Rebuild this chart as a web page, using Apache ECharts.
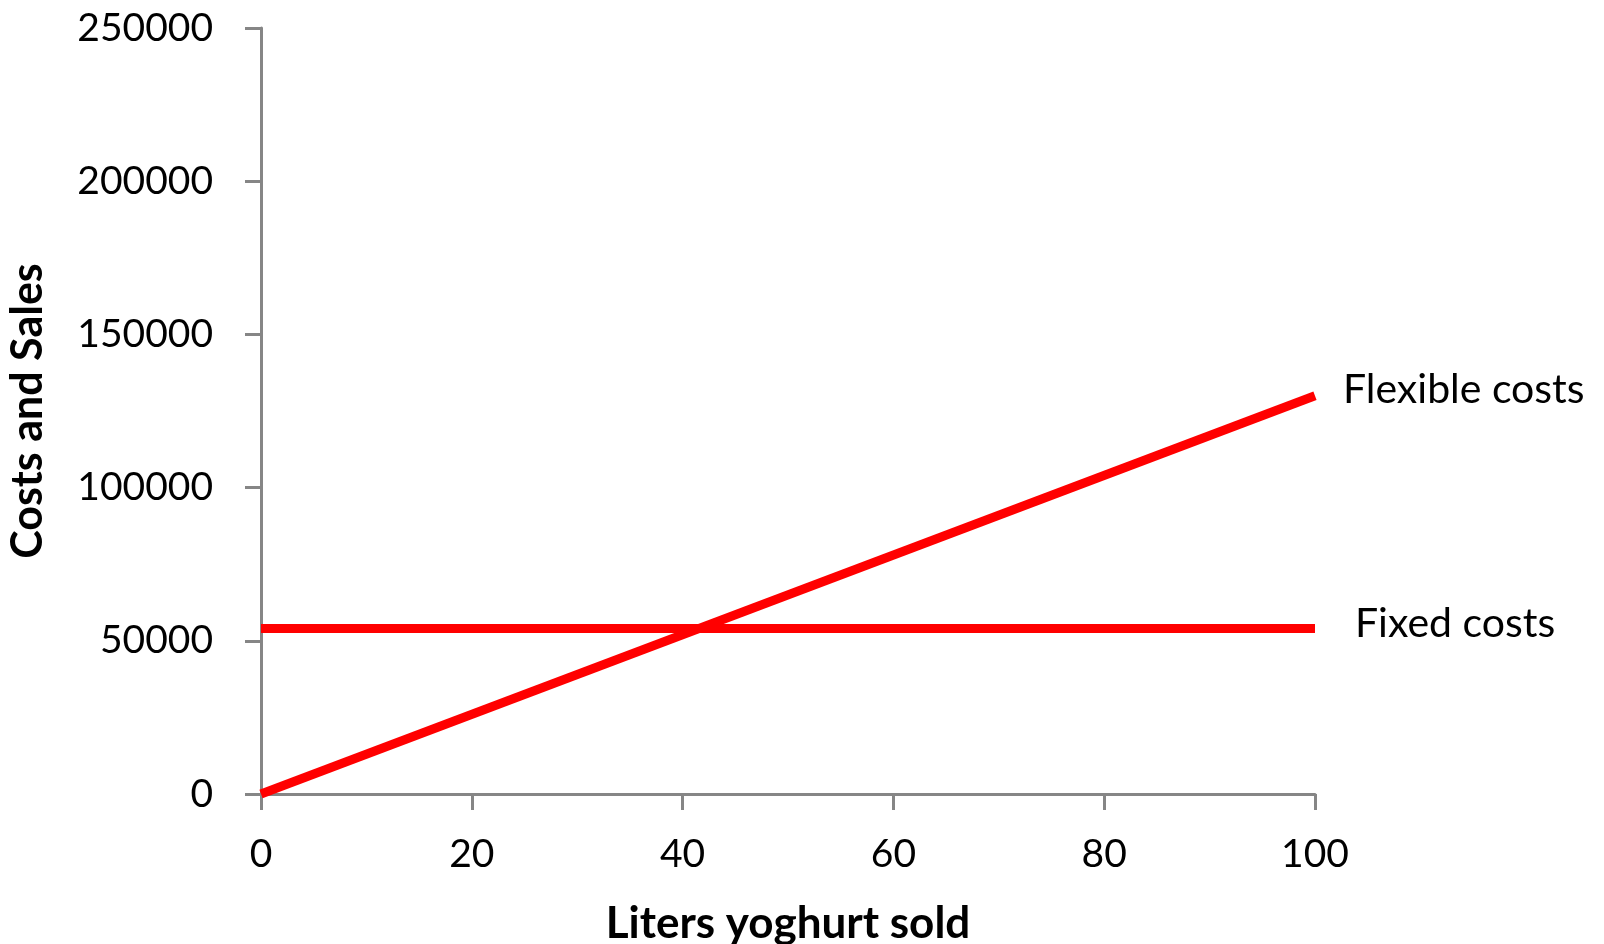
<!DOCTYPE html>
<html>
<head>
<meta charset="utf-8">
<script src="https://cdn.jsdelivr.net/npm/echarts@6/dist/echarts.min.js"></script>
<style>
html,body{margin:0;padding:0;background:#fff;}
#chart{width:1604px;height:944px;}
</style>
</head>
<body>
<div id="chart"></div>
<script>
var xValues = [0, 100];
var flexibleCosts = [0, 130000];
var fixedCosts = [54000, 54000];
var seriesNames = ['Flexible costs', 'Fixed costs'];
var xTitle = 'Liters yoghurt sold';
var yTitle = 'Costs and Sales';

function pairs(xs, ys) { return xs.map(function (x, i) { return [x, ys[i]]; }); }

var axisColor = '#868686';
var font = 'Lato';
var chart = echarts.init(document.getElementById('chart'));
chart.setOption({
  animation: false,
  backgroundColor: '#ffffff',
  grid: { left: 261, right: 289, top: 28, bottom: 150, containLabel: false, outerBoundsMode: 'none' },
  xAxis: {
    type: 'value', min: 0, max: 100, interval: 20,
    name: xTitle, nameLocation: 'middle', nameGap: 108,
    nameTextStyle: { fontFamily: font, fontWeight: 'bold', fontSize: 44, color: '#000' },
    axisLine: { show: true, lineStyle: { color: axisColor, width: 3 } },
    axisTick: { show: true, length: 16, lineStyle: { color: axisColor, width: 3 } },
    axisLabel: { margin: 41, fontFamily: font, fontSize: 39, color: '#000', formatter: function (v) { return String(v); } },
    splitLine: { show: false }
  },
  yAxis: {
    type: 'value', min: 0, max: 250000, interval: 50000,
    name: yTitle, nameLocation: 'middle', nameGap: 211, nameRotate: 90,
    nameTextStyle: { fontFamily: font, fontWeight: 'bold', fontSize: 43, color: '#000' },
    axisLine: { show: true, lineStyle: { color: axisColor, width: 3 } },
    axisTick: { show: true, length: 16, lineStyle: { color: axisColor, width: 3 } },
    axisLabel: { margin: 48, fontFamily: font, fontSize: 39, color: '#000', formatter: function (v) { return String(v); } },
    splitLine: { show: false }
  },
  series: [
    {
      name: seriesNames[0], type: 'line', data: pairs(xValues, flexibleCosts),
      showSymbol: false, symbol: 'none',
      lineStyle: { color: '#ff0000', width: 9 },
      endLabel: { show: true, formatter: seriesNames[0], distance: 28, offset: [0, -6],
        fontFamily: font, fontSize: 41, color: '#000' }
    },
    {
      name: seriesNames[1], type: 'line', data: pairs(xValues, fixedCosts),
      showSymbol: false, symbol: 'none',
      lineStyle: { color: '#ff0000', width: 9 },
      endLabel: { show: true, formatter: seriesNames[1], distance: 40, offset: [0, -5],
        fontFamily: font, fontSize: 41, color: '#000' }
    }
  ]
});
</script>
</body>
</html>
